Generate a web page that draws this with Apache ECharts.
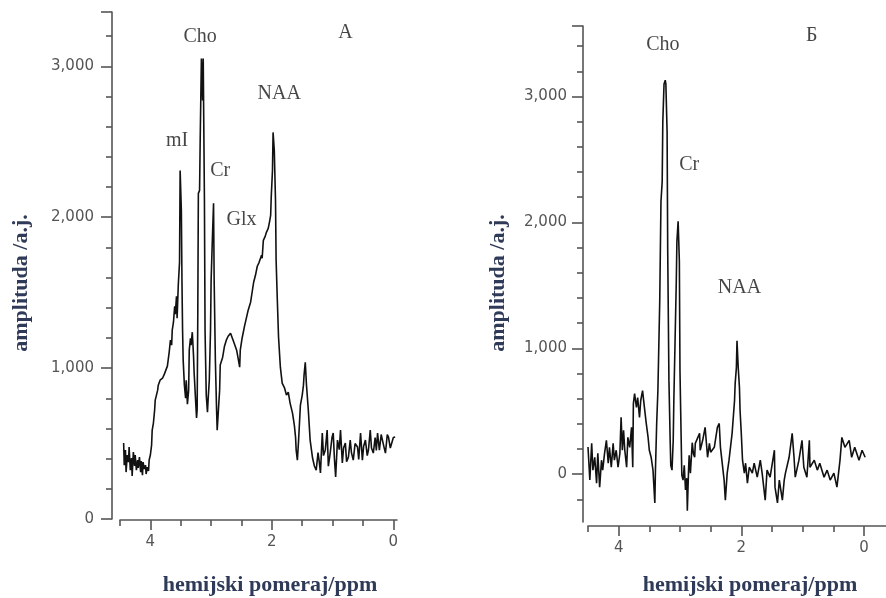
<!DOCTYPE html>
<html>
<head>
<meta charset="utf-8">
<script src="https://cdn.jsdelivr.net/npm/echarts@6/dist/echarts.min.js"></script>
<style>
  html, body { margin: 0; padding: 0; background: #fff; }
  #chart { width: 886px; height: 598px; }
</style>
</head>
<body>
<div id="chart"></div>
<script>
// ---- Spectrum A: chemical shift (ppm) and amplitude (a.u.) ----
const ppmA = [
  4.44, 4.43, 4.41, 4.40, 4.38, 4.36, 4.35, 4.33, 4.31, 4.30, 4.28, 4.26, 4.25, 4.23,
  4.21, 4.20, 4.18, 4.16, 4.15, 4.13, 4.12, 4.10, 4.08, 4.07, 4.05, 4.03, 4.02, 4.00,
  3.98, 3.97, 3.95, 3.93, 3.92, 3.90, 3.88, 3.87, 3.84, 3.80, 3.77, 3.74, 3.72, 3.70,
  3.69, 3.67, 3.65, 3.64, 3.62, 3.60, 3.59, 3.57, 3.56, 3.54, 3.52, 3.51, 3.49, 3.48,
  3.47, 3.46, 3.44, 3.42, 3.41, 3.39, 3.37, 3.36, 3.34, 3.33, 3.31, 3.29, 3.28, 3.26,
  3.24, 3.23, 3.22, 3.21, 3.19, 3.18, 3.16, 3.14, 3.13, 3.11, 3.10, 3.08, 3.06, 3.05,
  3.03, 3.01, 3.00, 2.98, 2.96, 2.95, 2.93, 2.91, 2.90, 2.88, 2.86, 2.85, 2.81, 2.78,
  2.75, 2.72, 2.68, 2.65, 2.62, 2.58, 2.55, 2.53, 2.52, 2.49, 2.45, 2.42, 2.39, 2.35,
  2.32, 2.30, 2.27, 2.24, 2.21, 2.17, 2.16, 2.14, 2.11, 2.09, 2.06, 2.04, 2.02, 2.01,
  1.99, 1.98, 1.96, 1.94, 1.93, 1.91, 1.89, 1.86, 1.83, 1.79, 1.76, 1.73, 1.70, 1.66,
  1.63, 1.61, 1.60, 1.58, 1.56, 1.53, 1.50, 1.48, 1.47, 1.45, 1.43, 1.40, 1.37, 1.33,
  1.30, 1.27, 1.24, 1.22, 1.20, 1.17, 1.15, 1.12, 1.09, 1.07, 1.04, 1.01, 0.99, 0.97,
  0.95, 0.92, 0.89, 0.87, 0.84, 0.82, 0.79, 0.77, 0.74, 0.71, 0.69, 0.66, 0.63, 0.59,
  0.57, 0.54, 0.51, 0.49, 0.46, 0.43, 0.41, 0.38, 0.36, 0.33, 0.30, 0.28, 0.26, 0.23,
  0.20, 0.18, 0.15, 0.13, 0.10, 0.08, 0.05, 0.02, 0.00, -0.03
];
const ampA = [
  503, 357, 457, 311, 424, 377, 477, 324, 404, 285, 444, 351, 424, 324,
  391, 338, 410, 311, 384, 291, 377, 331, 357, 298, 344, 318, 391, 424,
  490, 589, 636, 722, 788, 821, 854, 887, 920, 933, 960, 973, 1013, 1026,
  1106, 1185, 1152, 1251, 1304, 1410, 1357, 1476, 1331, 1556, 1701, 2310, 2046, 1582,
  1251, 1053, 887, 801, 920, 761, 854, 1119, 1198, 1152, 1238, 1086, 973, 821,
  669, 722, 1317, 2158, 2178, 2509, 3052, 2774, 3052, 2112, 1251, 821, 708, 788,
  920, 1251, 1582, 1847, 2092, 1582, 1053, 722, 589, 722, 854, 1020, 1072, 1145,
  1185, 1211, 1231, 1198, 1165, 1119, 1053, 1006, 1119, 1198, 1278, 1331, 1384, 1437,
  1516, 1569, 1615, 1675, 1701, 1748, 1728, 1847, 1873, 1900, 1926, 1966, 2012, 2138,
  2310, 2562, 2443, 2112, 1715, 1450, 1205, 1006, 900, 867, 821, 841, 768, 702,
  622, 543, 457, 390, 523, 755, 821, 887, 953, 1039, 887, 722, 523, 404,
  351, 324, 440, 380, 305, 570, 420, 457, 590, 350, 437, 540, 570, 400,
  278, 523, 460, 590, 371, 470, 503, 380, 410, 523, 440, 390, 500, 477,
  395, 570, 390, 480, 523, 420, 457, 590, 470, 437, 540, 455, 570, 457,
  560, 523, 470, 437, 560, 543, 470, 457, 540, 543
];

// ---- Spectrum B ----
const ppmB = [
  4.50, 4.47, 4.44, 4.42, 4.39, 4.36, 4.34, 4.31, 4.28, 4.26, 4.23, 4.20, 4.17, 4.15,
  4.12, 4.09, 4.07, 4.04, 4.01, 3.98, 3.96, 3.94, 3.92, 3.90, 3.87, 3.85, 3.82, 3.79,
  3.77, 3.76, 3.74, 3.71, 3.69, 3.66, 3.64, 3.61, 3.58, 3.55, 3.52, 3.50, 3.47, 3.44,
  3.41, 3.40, 3.38, 3.36, 3.35, 3.33, 3.31, 3.29, 3.28, 3.26, 3.24, 3.23, 3.21, 3.20,
  3.18, 3.16, 3.15, 3.13, 3.11, 3.10, 3.08, 3.06, 3.05, 3.03, 3.01, 3.00, 2.98, 2.97,
  2.95, 2.93, 2.91, 2.89, 2.88, 2.86, 2.85, 2.83, 2.80, 2.78, 2.76, 2.75, 2.68, 2.67,
  2.63, 2.59, 2.55, 2.52, 2.50, 2.44, 2.39, 2.36, 2.34, 2.28, 2.26, 2.23, 2.20, 2.15,
  2.11, 2.10, 2.08, 2.07, 2.05, 2.03, 2.02, 2.00, 1.98, 1.95, 1.93, 1.90, 1.87, 1.82,
  1.79, 1.74, 1.69, 1.66, 1.61, 1.58, 1.53, 1.46, 1.45, 1.41, 1.38, 1.33, 1.30, 1.28,
  1.22, 1.17, 1.14, 1.12, 1.06, 1.01, 0.98, 0.93, 0.89, 0.88, 0.81, 0.76, 0.72, 0.65,
  0.60, 0.55, 0.49, 0.44, 0.39, 0.36, 0.31, 0.24, 0.20, 0.15, 0.08, 0.03, -0.02
];
const ampB = [
  216, -47, 245, 32, 134, -71, 166, -103, 111, 32, 166, 269, 87, 213,
  55, 245, 111, 190, 55, 166, 451, 190, 348, 190, 55, 292, 213, 372,
  55, 561, 640, 530, 609, 451, 585, 664, 530, 403, 292, 190, 134, 32,
  -229, 32, 403, 664, 901, 1375, 2166, 2324, 2798, 3099, 3130, 3099, 2719, 1771,
  743, 269, 71, 32, 269, 585, 1059, 1534, 1850, 2008, 1692, 822, 269, -8,
  -47, 71, -126, -32, -290, 32, 150, 8, 250, 160, 134, 245, 324, 190,
  269, 372, 134, 245, 174, 213, 372, 403, 213, -47, -206, 8, 111, 324,
  585, 719, 846, 1059, 846, 688, 506, 324, 111, 8, 87, -71, 55, 8,
  87, -24, 111, 8, -206, 32, -24, 190, -103, -229, -47, -206, -47, 8,
  134, 324, 134, -24, 111, 269, 55, -24, 269, 55, 111, 32, 87, -24,
  32, -47, 8, -103, 111, 292, 213, 269, 134, 213, 111, 190, 134
];

// ---- Peak annotations (name, ppm, amplitude anchor) ----
const notesA = ['Cho', 'mI', 'Cr', 'Glx', 'NAA', 'А'];
const notesAppm = [3.18, 3.56, 2.85, 2.50, 1.88, 0.79];
const notesAamp = [3197, 2509, 2310, 1986, 2820, 3224];
const notesB = ['Cho', 'Cr', 'NAA', 'Б'];
const notesBppm = [3.28, 2.85, 2.03, 0.85];
const notesBamp = [3415, 2458, 1478, 3486];

// ---- Axis tick values ----
const xLabelTicks = [0, 2, 4];
const xMinorTicks = [0.5, 1, 1.5, 2.5, 3, 3.5, 4.5];
const yLabelTicks = [0, 1000, 2000, 3000];
const xName = 'hemijski pomeraj/ppm';
const yName = 'amplituda /a.j.';

const AXIS_COLOR = '#555';
const NAME_COLOR = '#2f3a58';
const fmt = v => String(v).replace(/\B(?=(\d{3})+(?!\d))/g, ',');

function minorY(min, max) {
  const out = [];
  for (let v = Math.ceil(min / 200) * 200; v < max; v += 200) {
    if (v % 1000 !== 0) out.push(v);
  }
  return out;
}

const panels = [
  { grid: { left: 120, top: 12, width: 277, height: 507 },
    xMin: -0.06, xOffset: 1, yMin: 0, yMax: 3360, yOffset: 8, labelMargin: 18,
    ppm: ppmA, amp: ampA, names: notesA, nPpm: notesAppm, nAmp: notesAamp },
  { grid: { left: 588, top: 26, width: 299, height: 496 },
    xMin: -0.36, xOffset: 4, yMin: -380, yMax: 3560, yOffset: 5, labelMargin: 16,
    ppm: ppmB, amp: ampB, names: notesB, nPpm: notesBppm, nAmp: notesBamp }
];

const grid = [], xAxis = [], yAxis = [], series = [];
panels.forEach((p, i) => {
  grid.push(p.grid);
  const line = { show: true, onZero: false, lineStyle: { color: AXIS_COLOR, width: 1.6 } };
  xAxis.push({
    type: 'value', gridIndex: i, position: 'bottom', inverse: true,
    min: p.xMin, max: 4.5, offset: p.xOffset,
    axisLine: line,
    axisTick: { show: true, customValues: xLabelTicks, length: 10,
                lineStyle: { color: AXIS_COLOR, width: 1.6 } },
    axisLabel: { show: true, customValues: xLabelTicks, margin: 15,
                 fontFamily: 'DejaVu Sans', fontSize: 15, color: '#555' },
    splitLine: { show: false }
  });
  xAxis.push({
    type: 'value', gridIndex: i, position: 'bottom', inverse: true,
    min: p.xMin, max: 4.5, offset: p.xOffset,
    axisLine: { show: false, onZero: false },
    axisTick: { show: true, customValues: xMinorTicks, length: 6,
                lineStyle: { color: AXIS_COLOR, width: 1.6 } },
    axisLabel: { show: false }, splitLine: { show: false }
  });
  yAxis.push({
    type: 'value', gridIndex: i, position: 'left',
    min: p.yMin, max: p.yMax, offset: p.yOffset,
    axisLine: line,
    axisTick: { show: true, customValues: yLabelTicks.concat([p.yMax]), length: 11,
                lineStyle: { color: AXIS_COLOR, width: 1.6 } },
    axisLabel: { show: true, customValues: yLabelTicks, margin: p.labelMargin,
                 formatter: fmt, fontFamily: 'DejaVu Sans', fontSize: 15, color: '#555' },
    splitLine: { show: false }
  });
  yAxis.push({
    type: 'value', gridIndex: i, position: 'left',
    min: p.yMin, max: p.yMax, offset: p.yOffset,
    axisLine: { show: false, onZero: false },
    axisTick: { show: true, customValues: minorY(p.yMin, p.yMax), length: 6,
                lineStyle: { color: AXIS_COLOR, width: 1.6 } },
    axisLabel: { show: false }, splitLine: { show: false }
  });
  series.push({
    type: 'line', xAxisIndex: 2 * i, yAxisIndex: 2 * i,
    data: p.ppm.map((v, k) => [v, p.amp[k]]),
    symbol: 'none', showSymbol: false,
    lineStyle: { color: '#111', width: 1.6 },
    animation: false
  });
  series.push({
    type: 'scatter', xAxisIndex: 2 * i, yAxisIndex: 2 * i,
    data: p.names.map((n, k) => ({ name: n, value: [p.nPpm[k], p.nAmp[k]] })),
    symbolSize: 1, itemStyle: { color: 'rgba(0,0,0,0)' },
    label: { show: true, position: 'inside', formatter: d => d.name,
             fontFamily: 'Liberation Serif', fontSize: 20, color: '#161616',
             textBorderWidth: 0 },
    silent: true, animation: false, z: 5
  });
});

const nameFont = 'bold 22px "Liberation Serif"';
const graphic = [
  { type: 'text', x: 270, y: 585, style: { text: xName, font: nameFont, fill: NAME_COLOR,
      align: 'center', verticalAlign: 'middle', textAlign: 'center', textVerticalAlign: 'middle' } },
  { type: 'text', x: 750, y: 585, style: { text: xName, font: nameFont, fill: NAME_COLOR,
      align: 'center', verticalAlign: 'middle', textAlign: 'center', textVerticalAlign: 'middle' } },
  { type: 'text', x: 21, y: 283, rotation: Math.PI / 2, style: { text: yName, font: nameFont, fill: NAME_COLOR,
      align: 'center', verticalAlign: 'middle', textAlign: 'center', textVerticalAlign: 'middle' } },
  { type: 'text', x: 498, y: 283, rotation: Math.PI / 2, style: { text: yName, font: nameFont, fill: NAME_COLOR,
      align: 'center', verticalAlign: 'middle', textAlign: 'center', textVerticalAlign: 'middle' } }
];

const chart = echarts.init(document.getElementById('chart'));
chart.setOption({
  backgroundColor: '#fff',
  animation: false,
  grid, xAxis, yAxis, series, graphic
});
</script>
</body>
</html>
